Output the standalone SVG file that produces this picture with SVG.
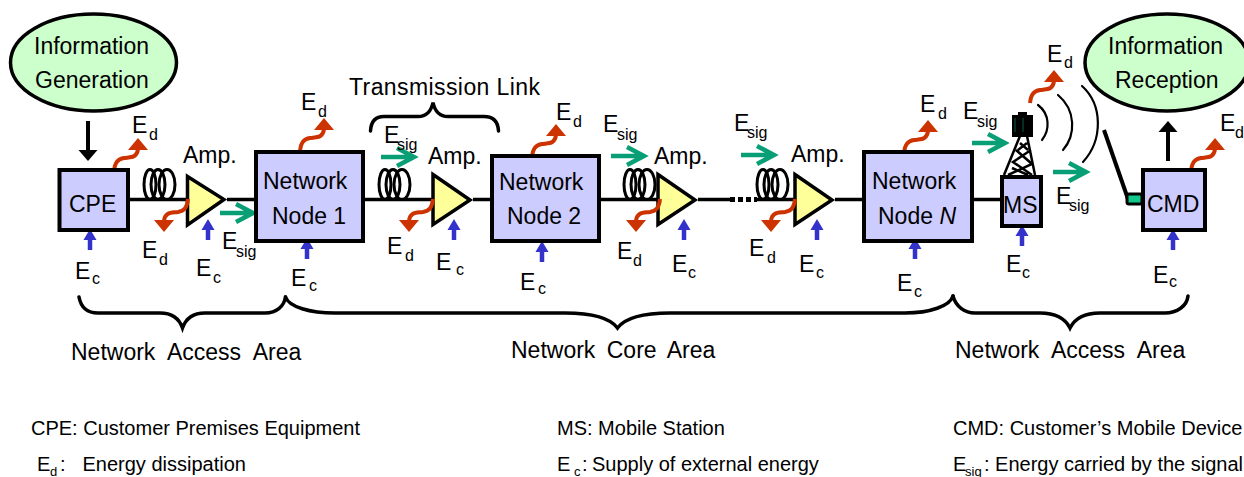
<svg xmlns="http://www.w3.org/2000/svg" width="1244" height="477" viewBox="0 0 1244 477">
<style>
text{font-family:"Liberation Sans",Arial,sans-serif;font-size:23px;fill:#000}
.s{font-size:16px}
.l{font-size:20px}
.ls{font-size:13px}
.a{word-spacing:5px}
.b{word-spacing:6.500px}
.box{fill:#ccccff;stroke:#000;stroke-width:4}
.tri{fill:#ffff99;stroke:#000;stroke-width:3.500;stroke-linejoin:miter}
.oval{fill:#ccffcc;stroke:#000;stroke-width:3.500}
.wire{fill:none;stroke:#000;stroke-width:3.500}
.coil{fill:none;stroke:#000;stroke-width:3}
.brace{fill:none;stroke:#000;stroke-width:3.500;stroke-linecap:round}
.arc{fill:none;stroke:#000;stroke-width:2.200;stroke-linecap:round}
.red{fill:none;stroke:#cc3300;stroke-width:4}
.tw{fill:none;stroke:#000;stroke-width:2.500}
</style>
<defs>
<g id="wave"><path class="red" d="M0 0C1-9 4-12 10-13C17-14 23-13 24-22"/><polygon points="24,-33 14,-21 34,-21" fill="#cc3300"/></g>
<g id="blue"><path d="M0 10V21" stroke="#3333cc" stroke-width="4.500" fill="none"/><polygon points="0,0 -6.500,11 6.500,11" fill="#3333cc"/></g>
<g id="green"><path d="M0 0H33M16-9L33 0L16 9" fill="none" stroke="#099f76" stroke-width="4.500"/></g>
<g id="coilShape"><ellipse class="coil" cx="7" cy="15" rx="6" ry="15"/><ellipse class="coil" cx="15" cy="15" rx="7" ry="15"/><ellipse class="coil" cx="24" cy="15" rx="8" ry="15"/></g>
</defs>

<g id="connectors">
<path class="wire" d="M129 199.500H186M227 199.500H256M364 199.500H432M473 199.500H491M600 199.500H657M698 199.500H730M757 199.500H794M835 199.500H863M973 199.500H1001"/>
<path d="M730 199.500H757" stroke="#000" stroke-width="5" stroke-dasharray="5 3" fill="none"/>
<use href="#coilShape" x="143" y="169.500"/><use href="#coilShape" x="378" y="169.500"/><use href="#coilShape" x="623" y="169.500"/><use href="#coilShape" x="756" y="169.500"/>
<path d="M88 121V152" stroke="#000" stroke-width="4"/><polygon points="88,161 78.500,150 97.500,150" fill="#000"/>
<path d="M1168 161V130" stroke="#000" stroke-width="4"/><polygon points="1168,121 1158.500,132 1177.500,132" fill="#000"/>
<use href="#wave" x="114" y="171"/><use href="#wave" x="300" y="151"/><use href="#wave" x="532" y="157"/><use href="#wave" x="904" y="153"/><use href="#wave" x="1030" y="103"/><use href="#wave" x="1191" y="171"/>
<use href="#blue" x="90" y="229"/><use href="#blue" x="208" y="219"/><use href="#blue" x="307" y="238"/><use href="#blue" x="454" y="219"/><use href="#blue" x="542" y="241"/><use href="#blue" x="684" y="219"/><use href="#blue" x="817" y="219"/><use href="#blue" x="915" y="238"/><use href="#blue" x="1022" y="225"/><use href="#blue" x="1173" y="229"/>
<use href="#green" x="220" y="213"/><use href="#green" x="381" y="157"/><use href="#green" x="611" y="156"/><use href="#green" x="741" y="155"/><use href="#green" x="972" y="143"/><use href="#green" x="1053" y="172"/>
</g>

<g id="info-generation"><ellipse class="oval" cx="93.500" cy="62.500" rx="83" ry="48.500"/><text x="34" y="54">Information</text><text x="35" y="88">Generation</text></g>
<g id="info-reception"><ellipse class="oval" cx="1167" cy="62.500" rx="82" ry="48.500"/><text x="1108" y="54">Information</text><text x="1115" y="88">Reception</text></g>
<g id="cpe"><rect class="box" x="59.500" y="170" width="68.500" height="60"/><text x="69" y="212">CPE</text></g>
<g id="node1"><rect class="box" x="256" y="152" width="107" height="89"/><text x="263" y="189">Network</text><text x="272" y="224">Node 1</text></g>
<g id="node2"><rect class="box" x="492" y="156" width="107" height="85"/><text x="499" y="190">Network</text><text x="507" y="224">Node 2</text></g>
<g id="nodeN"><rect class="box" x="864" y="152" width="108" height="89"/><text x="872" y="189">Network</text><text x="878" y="224">Node <tspan font-style="italic">N</tspan></text></g>
<g id="amp1"><polygon class="tri" points="187.500,176.500 224,199.500 187.500,225"/><text x="183" y="163">Amp.</text></g>
<g id="amp2"><polygon class="tri" points="433,174.500 470,200 433,224.500"/><text x="428" y="164">Amp.</text></g>
<g id="amp3"><polygon class="tri" points="658,174.500 695,200 658,224.500"/><text x="654" y="164">Amp.</text></g>
<g id="amp4"><polygon class="tri" points="795,174.500 832,200 795,224.500"/><text x="791" y="162">Amp.</text></g>
<use href="#wave" transform="translate(188 199) rotate(180)"/><use href="#wave" transform="translate(433 199) rotate(180)"/><use href="#wave" transform="translate(660 199) rotate(180)"/><use href="#wave" transform="translate(795 199) rotate(180)"/>
<g id="ms">
<rect class="box" x="1002" y="177" width="39" height="49"/><text x="1003" y="213">MS</text>
<rect x="1012" y="115" width="21" height="22" fill="#000"/><rect x="1018" y="112" width="9" height="5" fill="#000"/>
<path d="M1015 118V132M1023 118V132" stroke="#0a5a46" stroke-width="1" fill="none"/>
<path class="tw" d="M1020 136L1004 175M1027 136L1035 175M1016 150L1032 164L1008 175M1031 150L1013 162L1032 175M1012 168L1028 175M1020 143L1028 150M1027 143L1018 150"/>
<path class="arc" d="M1038 105C1050 114 1050 130 1042 140"/><path class="arc" d="M1058 95C1076 110 1076 135 1063 150"/><path class="arc" d="M1082 86C1103 105 1103 140 1083 162"/>
</g>
<g id="cmd">
<path d="M1104 130L1128 199" stroke="#000" stroke-width="4" fill="none"/>
<rect x="1127" y="194" width="15" height="10" rx="2" fill="#10c88c" stroke="#000" stroke-width="3"/>
<rect class="box" x="1143" y="170" width="62" height="60"/><text x="1147" y="212">CMD</text>
</g>

<g id="braces">
<path class="brace" d="M370.500 131C371 121 376 116.500 384 116.500H418C426 116.500 431 112 433 102.500C435 112 440 116.500 448 116.500H484C493 116.500 498 121 498.500 131"/>
<path class="brace" d="M79 297C81 308 88 313 98 313H160C172 313 179 318 182.500 328C186 318 193 313 205 313H265C277 313 284 306 285.500 297"/>
<path class="brace" d="M285.500 297C289 307 310 313 335 313H565C593 313 610 318 617.500 328C625 318 642 313 670 313H905C930 313 950 306 953 296"/>
<path class="brace" d="M953 296C956 307 965 313 975 313H1040C1054 313 1065 318 1070 328C1075 318 1086 313 1100 313H1165C1177 313 1187 306 1188 296"/>
</g>

<g id="labels">
<text x="349" y="95" textLength="191">Transmission Link</text>
<text x="132" y="133">E<tspan class="s" x="149" y="140">d</tspan></text>
<text x="301" y="110">E<tspan class="s" x="318" y="117">d</tspan></text>
<text x="556" y="120">E<tspan class="s" x="573" y="127">d</tspan></text>
<text x="920" y="112">E<tspan class="s" x="938" y="119">d</tspan></text>
<text x="1047" y="62">E<tspan class="s" x="1064" y="68">d</tspan></text>
<text x="1220" y="131">E<tspan class="s" x="1235" y="138">d</tspan></text>
<text x="142" y="258">E<tspan class="s" x="159" y="265">d</tspan></text>
<text x="387" y="254">E<tspan class="s" x="405" y="261">d</tspan></text>
<text x="617" y="259">E<tspan class="s" x="633" y="266">d</tspan></text>
<text x="749" y="256">E<tspan class="s" x="767" y="263">d</tspan></text>
<text x="75" y="279">E<tspan class="s" x="92" y="284">c</tspan></text>
<text x="196" y="276">E<tspan class="s" x="213" y="283">c</tspan></text>
<text x="291" y="286">E<tspan class="s" x="309" y="291">c</tspan></text>
<text x="436" y="270">E<tspan class="s" x="456" y="275">c</tspan></text>
<text x="520" y="290">E<tspan class="s" x="538" y="294">c</tspan></text>
<text x="672" y="272">E<tspan class="s" x="688" y="278">c</tspan></text>
<text x="799" y="272">E<tspan class="s" x="816" y="278">c</tspan></text>
<text x="897" y="291">E<tspan class="s" x="914" y="297">c</tspan></text>
<text x="1006" y="272">E<tspan class="s" x="1022" y="278">c</tspan></text>
<text x="1153" y="283">E<tspan class="s" x="1169" y="287">c</tspan></text>
<text x="222" y="249">E<tspan class="s" x="236" y="257">sig</tspan></text>
<text x="384" y="143">E<tspan class="s" x="397" y="150">sig</tspan></text>
<text x="603" y="132">E<tspan class="s" x="617" y="140">sig</tspan></text>
<text x="734" y="131">E<tspan class="s" x="747" y="138">sig</tspan></text>
<text x="963" y="119">E<tspan class="s" x="977" y="127">sig</tspan></text>
<text x="1056" y="204">E<tspan class="s" x="1069" y="211">sig</tspan></text>
<text class="b" x="71" y="360">Network Access Area</text>
<text class="a" x="511" y="358">Network Core Area</text>
<text class="b" x="955" y="358">Network Access Area</text>
</g>

<g id="legend">
<text class="l" x="31" y="435">CPE: Customer Premises Equipment</text>
<text class="l" x="557" y="435">MS: Mobile Station</text>
<text class="l" x="953" y="435">CMD: Customer’s Mobile Device</text>
<text class="l" x="37" y="471">E<tspan class="ls" x="50" y="476">d</tspan><tspan x="60" y="471">:</tspan><tspan x="82.500">Energy dissipation</tspan></text>
<text class="l" x="557" y="471">E<tspan class="ls" x="574" y="476">c</tspan><tspan x="582" y="471">:</tspan><tspan x="592">Supply of external energy</tspan></text>
<text class="l" x="953" y="471">E<tspan class="ls" x="965" y="476">sig</tspan><tspan x="984" y="471">: Energy carried by the signal</tspan></text>
</g>
</svg>
